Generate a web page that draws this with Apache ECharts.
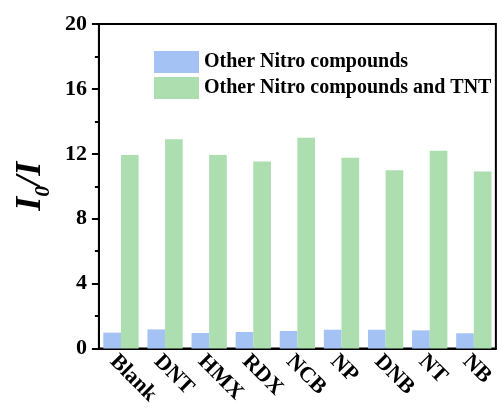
<!DOCTYPE html>
<html>
<head>
<meta charset="utf-8">
<script src="https://cdn.jsdelivr.net/npm/echarts@6/dist/echarts.min.js"></script>
<style>
  html, body { margin: 0; padding: 0; background: #fff; }
  #chart { width: 497px; height: 408px; }
</style>
</head>
<body>
<div id="chart"></div>
<script>
const categories = ['Blank', 'DNT', 'HMX', 'RDX', 'NCB', 'NP', 'DNB', 'NT', 'NB'];
const otherNitro = [0.98, 1.18, 0.96, 1.02, 1.08, 1.16, 1.16, 1.12, 0.94];
const otherNitroTNT = [11.93, 12.89, 11.93, 11.52, 12.99, 11.76, 10.99, 12.19, 10.91];
const seriesNames = ['Other Nitro compounds', 'Other Nitro compounds and TNT'];

const serif = "'Liberation Serif', 'Times New Roman', serif";

let myChart = echarts.init(document.getElementById('chart'));

let option = {
  animation: false,
  backgroundColor: '#fff',
  grid: {
    left: 98,
    top: 24,
    width: 407,
    height: 327,
    show: true,
    borderColor: '#000',
    borderWidth: 2,
    backgroundColor: 'transparent'
  },
  legend: {
    left: 154,
    top: 51,
    padding: 0,
    orient: 'vertical',
    icon: 'rect',
    itemWidth: 45,
    itemHeight: 22,
    itemGap: 4,
    data: seriesNames,
    textStyle: { fontFamily: serif, fontWeight: 'bold', fontSize: 20, color: '#000' }
  },
  xAxis: {
    type: 'category',
    data: categories,
    axisLine: { lineStyle: { color: '#000', width: 2 } },
    axisTick: { show: false },
    axisLabel: {
      rotate: -45,
      align: 'left',
      verticalAlign: 'top',
      margin: 2,
      interval: 0,
      fontFamily: serif,
      fontWeight: 'bold',
      fontSize: 22,
      color: '#000'
    }
  },
  yAxis: {
    type: 'value',
    min: 0,
    max: 20,
    interval: 4,
    name: '{a|I}{b|0}{a|/I}',
    nameLocation: 'middle',
    nameRotate: 90,
    nameGap: 46,
    nameTextStyle: {
      rich: {
        a: { fontFamily: serif, fontWeight: 'bold', fontStyle: 'italic', fontSize: 36, color: '#000', lineHeight: 40 },
        b: { fontFamily: serif, fontWeight: 'bold', fontStyle: 'italic', fontSize: 22, color: '#000', lineHeight: 40, padding: [24, 0, 0, 0] }
      }
    },
    axisLine: { show: true, lineStyle: { color: '#000', width: 2 } },
    axisTick: { show: true, inside: false, length: 7, lineStyle: { color: '#000', width: 2 } },
    minorTick: { show: true, splitNumber: 2, length: 4, lineStyle: { color: '#000', width: 2 } },
    splitLine: { show: false },
    axisLabel: {
      margin: 12,
      fontFamily: serif,
      fontWeight: 'bold',
      fontSize: 22,
      color: '#000'
    }
  },
  series: [
    {
      name: seriesNames[0],
      type: 'bar',
      data: otherNitro,
      barGap: '0%',
      barCategoryGap: '20%',
      itemStyle: { color: '#a4c2f4' }
    },
    {
      name: seriesNames[1],
      type: 'bar',
      data: otherNitroTNT,
      barGap: '0%',
      barCategoryGap: '20%',
      itemStyle: { color: '#acdeb0' }
    }
  ]
};

myChart.setOption(option);
</script>
</body>
</html>
